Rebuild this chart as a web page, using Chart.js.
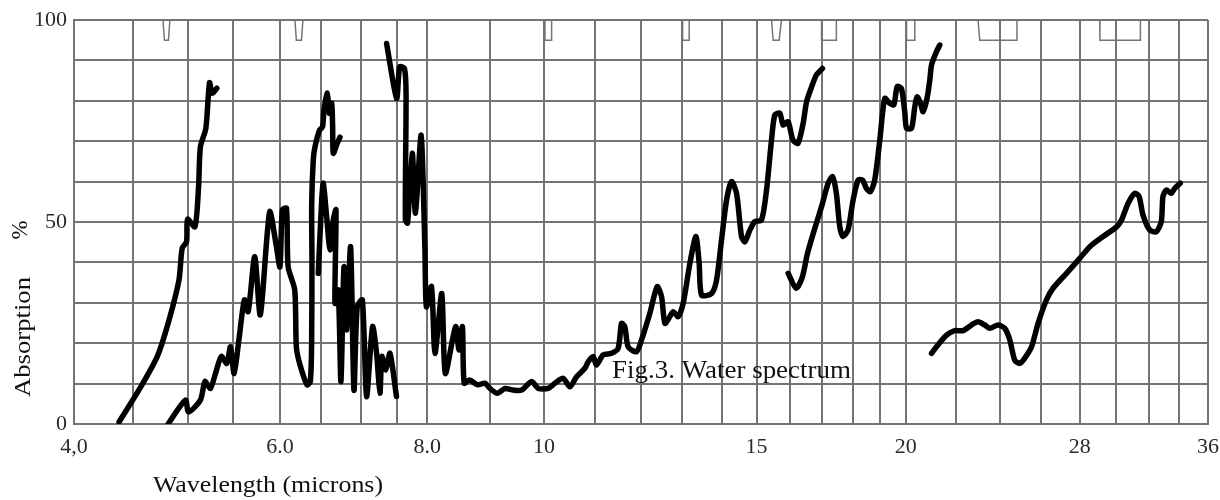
<!DOCTYPE html>
<html>
<head>
<meta charset="utf-8">
<title>Water spectrum</title>
<script src="https://cdn.jsdelivr.net/npm/chart.js@4.4.1/dist/chart.umd.min.js"></script>
<style>
  html, body { margin: 0; padding: 0; background: #fff; }
  #wrap { width: 1220px; height: 500px; position: relative; }
</style>
</head>
<body>
<div id="wrap"><canvas id="spectrum"></canvas></div>
<script>
// [wavelength (microns), absorption (%)], one array per pen stroke
const strokeA = [[4.38,0.5],[4.56,8.8],[4.72,16.7],[4.82,24.9],[4.92,35.6],[4.95,43.5],[4.99,45.1],[5.0,50.7],
  [5.08,48.8],[5.12,58.7],[5.14,68.6],[5.2,73.2],[5.24,84.5],[5.27,81.9],[5.32,83.1]];

const strokeB = [[4.82,0],[4.98,5.9],[5.01,3.0],[5.14,5.9],[5.19,10.5],[5.25,8.8],[5.3,12.1],[5.37,16.7],[5.43,15.0],
  [5.47,19.1],[5.51,12.5],[5.56,20.7],[5.62,30.7],[5.66,27.8],[5.73,41.4],[5.79,27.0],[5.89,52.5],[5.96,44.3],
  [6.0,38.9],[6.03,53.0],[6.08,53.4],[6.1,38.9],[6.18,33.2],[6.2,19.1],[6.24,15.0],[6.33,9.7],[6.37,10.5],
  [6.386,20.0],[6.39,40.6],[6.387,54.6],[6.406,65.3],[6.427,68.6],[6.48,72.6],[6.52,73.6],[6.537,77.7],
  [6.58,81.9],[6.604,76.9],[6.634,79.4],[6.646,73.6],[6.654,67.0],[6.704,69.5],[6.738,71.0]];

const strokeB2 = [[6.467,37.3],[6.509,55.4],[6.529,59.6],[6.571,51.3],[6.613,43.1],[6.654,50.5],[6.688,53.0],
  [6.675,29.9],[6.716,33.2],[6.75,10.5],[6.788,38.9],[6.821,23.3],[6.871,43.9],[6.913,8.4],[6.954,29.0],
  [7.02,30.7],[7.078,6.8],[7.161,24.1],[7.216,17.5],[7.262,7.6],[7.289,16.7],[7.344,13.4],[7.4,17.5],[7.49,6.8]];

const strokeC = [[7.354,94.2],[7.492,80.6],[7.542,88.4],[7.62,88.0],[7.647,81.9],[7.636,50.5],[7.672,49.7],
  [7.75,67.0],[7.803,52.2],[7.897,71.5],[7.959,43.9],[7.984,29.0],[8.066,34.0],[8.122,17.5],[8.231,32.3],
  [8.287,12.5],[8.451,24.1],[8.506,18.3],[8.56,24.1],[8.588,10.1],[8.671,10.9],[8.807,9.7],[8.918,10.1],
  [9.0,8.8],[9.135,7.6],[9.278,8.8],[9.431,8.4],[9.587,8.4],[9.772,10.5],[9.894,8.8],[10.084,8.8],
  [10.216,10.1],[10.379,11.3],[10.51,9.2],[10.641,11.7],[10.804,13.8],[10.869,15.4],[10.967,16.7],
  [11.037,14.6],[11.182,17.1],[11.365,17.5],[11.51,18.7],[11.584,24.9],[11.656,24.1],[11.729,19.1],
  [11.912,17.9],[12.024,20.8],[12.227,27.4],[12.405,34.0],[12.512,31.5],[12.593,24.9],[12.715,26.6],
  [12.795,27.8],[12.917,26.6],[13.04,29.9],[13.208,39.8],[13.358,46.4],[13.44,39.8],[13.5,31.9],
  [13.75,32.3],[13.875,35.6],[14.0,45.5],[14.143,55.4],[14.286,60.0],[14.429,57.1],[14.571,46.4],
  [14.666,45.1],[14.81,48.0],[14.95,50.1],[15.15,50.5],[15.3,57.9],[15.45,70.3],[15.55,76.5],[15.7,76.9],
  [15.8,74.0],[15.95,74.8],[16.1,70.3],[16.26,69.5],[16.42,74.4],[16.53,79.8],[16.69,83.5],[16.84,86.4],
  [17.03,88.0]];

const strokeD = [[15.95,37.3],[16.2,33.6],[16.4,36.5],[16.55,42.0],[16.74,47.2],[17.0,53.8],[17.21,59.6],
  [17.35,61.2],[17.47,57.1],[17.58,48.8],[17.68,46.4],[17.84,48.0],[18.0,55.4],[18.19,60.4],[18.35,60.4],
  [18.5,58.3],[18.65,57.5],[18.81,60.4],[19.0,70.3],[19.19,80.6],[19.38,79.4],[19.54,79.0],[19.67,83.5],
  [19.83,83.1],[19.96,77.3],[20.03,73.2],[20.23,73.2],[20.36,78.5],[20.45,81.0],[20.59,79.4],[20.69,77.3],
  [20.85,80.6],[20.96,85.1],[21.03,88.9],[21.23,92.2],[21.36,93.8]];

const strokeE = [[21.03,17.5],[21.29,19.6],[21.63,22.0],[21.96,23.1],[22.33,23.1],[22.71,24.5],[23.01,25.3],
  [23.32,24.5],[23.55,23.7],[23.92,24.5],[24.24,23.7],[24.49,20.8],[24.73,15.8],[24.98,15.0],[25.22,16.3],
  [25.55,19.1],[25.87,24.9],[26.29,30.7],[26.63,33.6],[27.32,37.3],[28.0,41.0],[28.55,43.9],[29.27,46.4],
  [30.0,48.8],[30.31,50.5],[30.71,54.6],[31.12,57.1],[31.39,56.3],[31.63,51.7],[32.05,48.0],[32.49,47.6],
  [32.82,50.1],[32.93,56.3],[33.16,57.9],[33.49,57.1],[33.71,58.3],[34.09,59.6]];

// little pen-lift notches hanging from the top edge: [left, bottom-left, bottom-right, right] wavelengths
const notchWaves = [[4.773,4.787,4.823,4.837],[6.183,6.2,6.262,6.28],[10.02,10.02,10.151,10.151],
  [13.025,13.025,13.19,13.19],[15.45,15.5,15.68,15.75],[17.0,17.0,17.47,17.47],[20.03,20.03,20.36,20.36],
  [23.01,23.09,24.81,24.84],[29.09,29.1,31.47,31.47]];
const notchDepth = 95;

const gridWaves = [4,4.5,5,5.5,6,6.5,7,7.5,8,9,10,11,12,13,14,15,16,17,18,19,20,22,24,26,28,30,32,34,36];
const tickWaves = [4, 6, 8, 10, 15, 20, 28, 36];
const tickText = ['4,0', '6.0', '8.0', '10', '15', '20', '28', '36'];
const absTicks = [0, 50, 100];

// the chart paper is not linear in wavelength: where each grid line sits along the axis (0..1)
const gridSpots = [0,0.0523,0.1002,0.1404,0.1816,0.2178,0.2530,0.2850,0.3116,0.3668,0.4144,0.4593,0.4996,
  0.5358,0.5710,0.6019,0.6312,0.6592,0.6870,0.7106,0.7335,0.7776,0.8164,0.8525,0.8869,0.9193,0.9480,0.9744,1];

function waveToSpot(w) {
  for (let i = 1; i < gridWaves.length; i++) {
    if (w <= gridWaves[i] || i === gridWaves.length - 1) {
      const t = (w - gridWaves[i - 1]) / (gridWaves[i] - gridWaves[i - 1]);
      return gridSpots[i - 1] + t * (gridSpots[i] - gridSpots[i - 1]);
    }
  }
}
function spotToWave(s) {
  for (let i = 1; i < gridSpots.length; i++) {
    if (s <= gridSpots[i] || i === gridSpots.length - 1) {
      const t = (s - gridSpots[i - 1]) / (gridSpots[i] - gridSpots[i - 1]);
      return gridWaves[i - 1] + t * (gridWaves[i] - gridWaves[i - 1]);
    }
  }
}

class PaperScale extends Chart.LinearScale {
  getPixelForValue(value) {
    if (value === null || isNaN(value)) return NaN;
    return this.getPixelForDecimal(waveToSpot(value));
  }
  getValueForPixel(pixel) {
    return spotToWave(this.getDecimalForPixel(pixel));
  }
}
PaperScale.id = 'paper';
PaperScale.defaults = {};
Chart.register(PaperScale);

function toPoints(stroke) {
  return stroke.map(p => ({ x: p[0], y: p[1] }));
}

const notchPoints = [];
notchWaves.forEach(n => {
  notchPoints.push({ x: n[0], y: 100 }, { x: n[1], y: notchDepth }, { x: n[2], y: notchDepth }, { x: n[3], y: 100 });
  notchPoints.push({ x: n[3], y: null });
});

function penLine(stroke) {
  return {
    data: toPoints(stroke),
    borderColor: '#000',
    borderWidth: 5.5,
    pointRadius: 0,
    tension: 0.25,
    borderJoinStyle: 'round',
    borderCapStyle: 'round',
    fill: false
  };
}

function fitText(ctx, text, x, y, width, angle) {
  const w = ctx.measureText(text).width;
  ctx.save();
  ctx.translate(x, y);
  if (angle) ctx.rotate(angle);
  ctx.scale(width / w, 1);
  ctx.fillText(text, 0, 0);
  ctx.restore();
}

const paperText = {
  id: 'paperText',
  afterDatasetsDraw(chart) {
    const ctx = chart.ctx;
    ctx.save();
    ctx.fillStyle = '#111';
    ctx.textBaseline = 'alphabetic';
    ctx.textAlign = 'left';
    ctx.font = '25px "Liberation Serif"';
    fitText(ctx, 'Fig.3. Water spectrum', 612, 378, 239);
    ctx.font = '24px "Liberation Serif"';
    fitText(ctx, 'Wavelength (microns)', 153, 492, 230);
    ctx.textAlign = 'center';
    fitText(ctx, 'Absorption', 30, 337, 120, -Math.PI / 2);
    fitText(ctx, '%', 27, 230, 19, -Math.PI / 2);
    ctx.restore();
  }
};

const gridColor = '#747474';

new Chart(document.getElementById('spectrum'), {
  type: 'line',
  data: {
    datasets: [
      penLine(strokeA), penLine(strokeB), penLine(strokeB2), penLine(strokeC), penLine(strokeD), penLine(strokeE),
      {
        data: notchPoints,
        borderColor: gridColor,
        borderWidth: 1.5,
        pointRadius: 0,
        tension: 0,
        spanGaps: false,
        fill: false
      }
    ]
  },
  options: {
    responsive: true,
    maintainAspectRatio: false,
    animation: false,
    layout: { padding: { top: 20, right: 12, bottom: 0, left: 0 } },
    plugins: { legend: { display: false }, tooltip: { enabled: false } },
    scales: {
      x: {
        type: 'paper',
        min: 4,
        max: 36,
        afterBuildTicks: axis => { axis.ticks = gridWaves.map(v => ({ value: v })); },
        afterFit: axis => {
          axis.height = 76;
          axis.paddingLeft = 0;
          axis.paddingRight = 0;
        },
        grid: { color: gridColor, lineWidth: 2, drawTicks: false },
        border: { color: gridColor, width: 2 },
        ticks: {
          autoSkip: false,
          maxRotation: 0,
          padding: 10,
          color: '#2a2a2a',
          font: { family: '"Liberation Serif"', size: 22 },
          callback: v => {
            const i = tickWaves.indexOf(v);
            return i < 0 ? '' : tickText[i];
          }
        }
      },
      y: {
        min: 0,
        max: 100,
        afterFit: axis => {
          axis.width = 74;
          axis.paddingTop = 0;
          axis.paddingBottom = 0;
        },
        grid: { color: gridColor, lineWidth: 2, drawTicks: false },
        border: { color: gridColor, width: 2 },
        ticks: {
          stepSize: 10,
          padding: 7,
          color: '#2a2a2a',
          font: { family: '"Liberation Serif"', size: 22 },
          callback: v => (absTicks.includes(v) ? String(v) : '')
        }
      }
    }
  },
  plugins: [paperText]
});
</script>
</body>
</html>
